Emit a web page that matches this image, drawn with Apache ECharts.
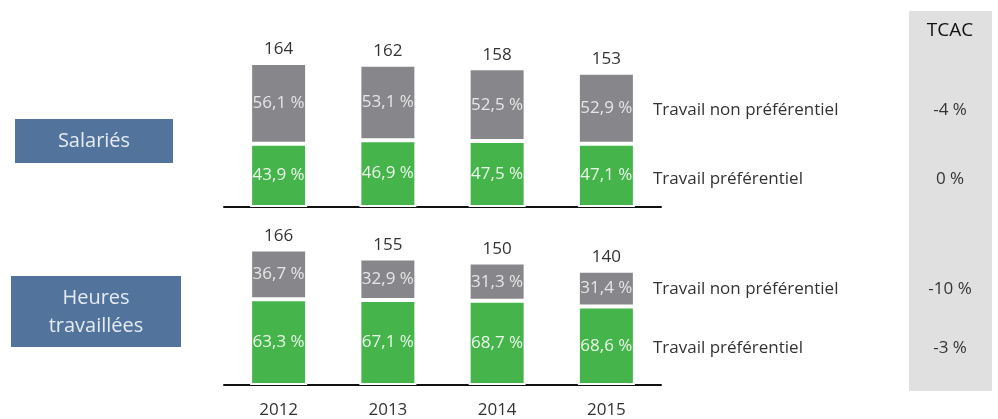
<!DOCTYPE html>
<html>
<head>
<meta charset="utf-8">
<script src="https://cdn.jsdelivr.net/npm/echarts@6/dist/echarts.min.js"></script>
<style>
  html, body { margin: 0; padding: 0; background: #fff; }
  #chart { width: 998px; height: 419px; }
</style>
</head>
<body>
<div id="chart"></div>
<script>
// données
const years = ['2012', '2013', '2014', '2015']
const salariesTotal = [164, 162, 158, 153]
const salariesPref = [43.9, 46.9, 47.5, 47.1]
const salariesNonPref = [56.1, 53.1, 52.5, 52.9]
const heuresTotal = [166, 155, 150, 140]
const heuresPref = [63.3, 67.1, 68.7, 68.6]
const heuresNonPref = [36.7, 32.9, 31.3, 31.4]
const tcacLabels = ['-4 %', '0 %', '-10 %', '-3 %']

const FONT = 'Open Sans'
const GREEN = '#45b54b'
const GREY = '#87878b'

// hauteur de chaque segment = total x part
function part(totals, pcts) {
  return totals.map((t, i) => ({ value: t * pcts[i] / 100, pct: pcts[i], total: t }))
}
function pctLabel(p) {
  return p.data.pct.toFixed(1).replace('.', ',') + ' %'
}

function barSeries(name, idx, data, color, txtColor) {
  return {
    name: name,
    type: 'bar',
    stack: 'g' + idx,
    xAxisIndex: idx,
    yAxisIndex: idx,
    barWidth: 57,
    data: data,
    itemStyle: { color: color, borderColor: '#fff', borderWidth: 2 },
    label: {
      show: true,
      position: 'inside',
      formatter: pctLabel,
      color: txtColor,
      fontFamily: FONT,
      fontSize: 17
    },
    emphasis: { disabled: true },
    z: 2
  }
}

function totalSeries(idx, totals) {
  // labels des totaux au-dessus des barres
  return {
    type: 'bar',
    stack: 'g' + idx,
    xAxisIndex: idx,
    yAxisIndex: idx,
    barWidth: 57,
    data: totals.map(t => ({ value: 0, total: t })),
    itemStyle: { color: 'transparent' },
    label: {
      show: true,
      position: 'top',
      distance: 5,
      formatter: p => p.data.total,
      color: '#333',
      fontFamily: FONT,
      fontSize: 17
    },
    silent: true
  }
}

let myChart = echarts.init(document.getElementById('chart'))

const xBase = {
  type: 'category',
  data: years,
  axisTick: { show: false },
  axisLine: { lineStyle: { color: '#111', width: 2 } }
}
const yBase = { type: 'value', min: 0, max: 180, show: false, splitLine: { show: false } }

const rightText = (y, txt) => ({
  type: 'text', x: 653, y: y,
  style: { text: txt, fill: '#333', font: '17px "' + FONT + '"', textVerticalAlign: 'middle' }
})
const tcacText = (y, txt) => ({
  type: 'text', x: 950, y: y,
  style: { text: txt, fill: '#333', font: '17px "' + FONT + '"', textAlign: 'center', textVerticalAlign: 'middle' }
})

let options = {
  animation: false,
  grid: [
    { left: 224, width: 437, top: 49, bottom: 212 },
    { left: 224, width: 437, top: 238, bottom: 32 }
  ],
  xAxis: [
    Object.assign({}, xBase, { gridIndex: 0, axisLabel: { show: false } }),
    Object.assign({}, xBase, {
      gridIndex: 1,
      axisLabel: { color: '#333', fontFamily: FONT, fontSize: 17, margin: 17 }
    })
  ],
  yAxis: [
    Object.assign({ gridIndex: 0 }, yBase),
    Object.assign({ gridIndex: 1 }, yBase)
  ],
  series: [
    barSeries('Travail préférentiel', 0, part(salariesTotal, salariesPref), GREEN, '#eaf6ea'),
    barSeries('Travail non préférentiel', 0, part(salariesTotal, salariesNonPref), GREY, '#e6e6e6'),
    totalSeries(0, salariesTotal),
    barSeries('Travail préférentiel', 1, part(heuresTotal, heuresPref), GREEN, '#eaf6ea'),
    barSeries('Travail non préférentiel', 1, part(heuresTotal, heuresNonPref), GREY, '#e6e6e6'),
    totalSeries(1, heuresTotal)
  ],
  graphic: [
    // colonne TCAC
    { type: 'rect', shape: { x: 909, y: 11, width: 83, height: 380 }, style: { fill: '#e0e0e0' }, z: -1 },
    { type: 'text', x: 950, y: 31, style: { text: 'TCAC', fill: '#111', font: '19px "' + FONT + '"', textAlign: 'center', textVerticalAlign: 'middle' } },
    tcacText(110, tcacLabels[0]),
    tcacText(179, tcacLabels[1]),
    tcacText(289, tcacLabels[2]),
    tcacText(348, tcacLabels[3]),
    // libellés à droite
    rightText(110, 'Travail non préférentiel'),
    rightText(179, 'Travail préférentiel'),
    rightText(289, 'Travail non préférentiel'),
    rightText(348, 'Travail préférentiel'),
    // boîtes bleues à gauche
    { type: 'rect', shape: { x: 15, y: 119, width: 158, height: 44 }, style: { fill: '#52739c' } },
    { type: 'text', x: 94, y: 141, style: { text: 'Salariés', fill: '#e6ebf2', font: '20px "' + FONT + '"', textAlign: 'center', textVerticalAlign: 'middle' } },
    { type: 'rect', shape: { x: 11, y: 276, width: 170, height: 71 }, style: { fill: '#52739c' } },
    { type: 'text', x: 96, y: 312, style: { text: 'Heures\ntravaillées', fill: '#e6ebf2', font: '20px "' + FONT + '"', lineHeight: 28, textAlign: 'center', textVerticalAlign: 'middle' } }
  ]
}
myChart.setOption(options)
</script>
</body>
</html>
